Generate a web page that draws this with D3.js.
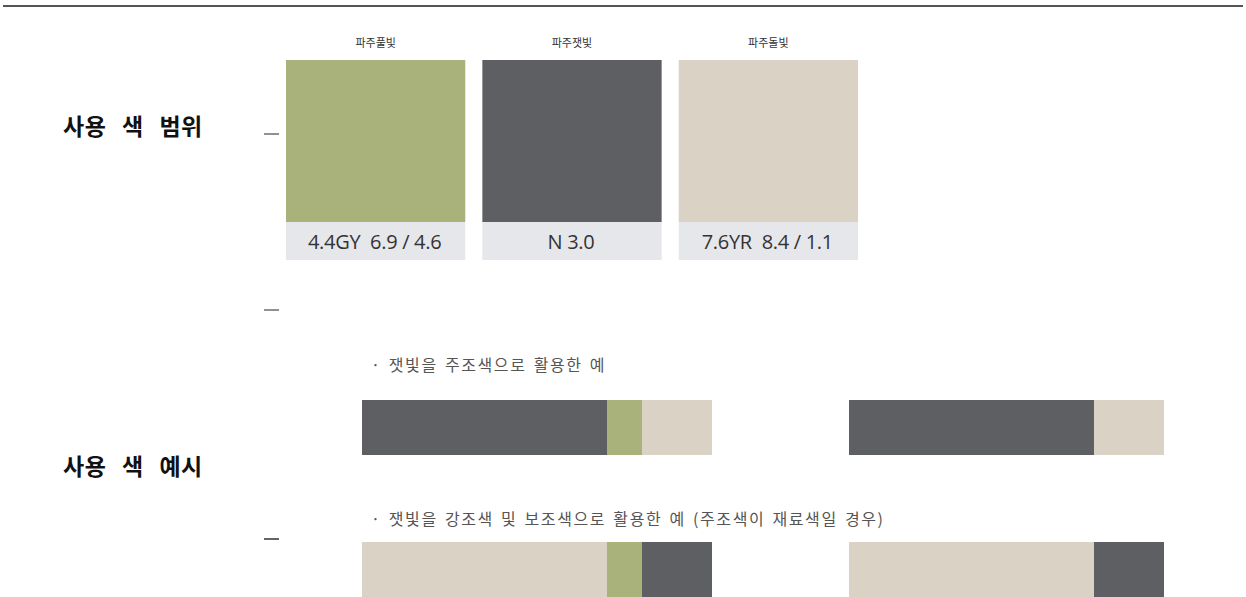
<!DOCTYPE html>
<html><head><meta charset="utf-8">
<script src="https://cdn.jsdelivr.net/npm/d3@7"></script>
<style>
html,body{margin:0;padding:0;background:#fff;}
svg{display:block;}
</style></head>
<body>
<svg id="chart" width="1246" height="597"></svg>
<script>
// ---- data ----
const swatchNames = ["파주풀빛", "파주잿빛", "파주돌빛"];
const swatchCodes = ["4.4GY  6.9 / 4.6", "N 3.0", "7.6YR  8.4 / 1.1"];
const swatchColors = ["#a8b27a", "#5e5f63", "#dbd2c6"];
const sectionLabels = ["사용 색 범위", "사용 색 예시"];
const exampleCaptions = [
  "· 잿빛을 주조색으로 활용한 예",
  "· 잿빛을 강조색 및 보조색으로 활용한 예 (주조색이 재료색일 경우)"
];
// example bars: [swatch name, share]
const example1A = [["파주잿빛", 70], ["파주풀빛", 10], ["파주돌빛", 20]];
const example1B = [["파주잿빛", 70], ["파주돌빛", 20]];
const example2A = [["파주돌빛", 70], ["파주풀빛", 10], ["파주잿빛", 20]];
const example2B = [["파주돌빛", 70], ["파주잿빛", 20]];

// ---- drawing ----
const svg = d3.select("#chart");
const color = d3.scaleOrdinal().domain(swatchNames).range(swatchColors);

// top rule
svg.append("line").attr("x1", 3).attr("x2", 1243).attr("y1", 6).attr("y2", 6)
  .attr("stroke", "#555").attr("stroke-width", 2);

// section labels
const labelY = d3.scalePoint().domain(sectionLabels).range([135, 475]);
svg.selectAll("text.section").data(sectionLabels).join("text")
  .attr("class", "section")
  .attr("x", 63).attr("y", d => labelY(d))
  .attr("font-family", "'Noto Sans CJK KR', sans-serif")
  .attr("font-weight", "bold").attr("font-size", 23)
  .attr("fill", "#111")
  .attr("letter-spacing", 0.5)
  .attr("word-spacing", 10)
  .text(d => d);

// dashes
const dashYs = [134, 310, 539];
svg.selectAll("line.dash").data(dashYs).join("line")
  .attr("class", "dash")
  .attr("x1", 264).attr("x2", 279).attr("y1", d => d).attr("y2", d => d)
  .attr("stroke", (d, i) => i === 2 ? "#111" : "#555").attr("stroke-width", 1.3);

// swatches
const x = d3.scaleBand().domain(swatchNames).range([286, 858]).paddingInner(0.087);
const sw = svg.selectAll("g.sw").data(swatchNames).join("g").attr("class", "sw")
  .attr("transform", d => `translate(${x(d)},0)`);
sw.append("text")
  .attr("x", x.bandwidth() / 2).attr("y", 47)
  .attr("text-anchor", "middle")
  .attr("font-family", "'Noto Sans CJK KR', sans-serif")
  .attr("font-size", 11).attr("fill", "#333")
  .text(d => d);
sw.append("rect")
  .attr("x", 0).attr("y", 60).attr("width", x.bandwidth()).attr("height", 162)
  .attr("fill", d => color(d));
sw.append("rect")
  .attr("x", 0).attr("y", 222).attr("width", x.bandwidth()).attr("height", 38)
  .attr("fill", "#e6e7eb");
sw.append("text")
  .attr("x", x.bandwidth() / 2 - 1).attr("y", 248.5)
  .attr("text-anchor", "middle")
  .attr("font-family", "'Open Sans', sans-serif")
  .attr("font-size", 20).attr("fill", "#333")
  .attr("letter-spacing", -0.3)
  .attr("xml:space", "preserve")
  .style("white-space", "pre")
  .text((d, i) => swatchCodes[i]);

// captions
const captionY = [371, 525];
svg.selectAll("text.caption").data(exampleCaptions).join("text")
  .attr("class", "caption")
  .attr("x", 371).attr("y", (d, i) => captionY[i])
  .attr("font-family", "'Noto Sans CJK KR', sans-serif")
  .attr("font-size", 16).attr("fill", "#555")
  .attr("letter-spacing", 1.6)
  .attr("word-spacing", 2)
  .text(d => d);

// example bars
const w = d3.scaleLinear().domain([0, 100]).range([0, 350]);
const bars = [
  {segs: example1A, x0: 362, y: 400},
  {segs: example1B, x0: 849, y: 400},
  {segs: example2A, x0: 362, y: 542},
  {segs: example2B, x0: 849, y: 542}
];
bars.forEach(b => {
  let acc = 0;
  const segs = b.segs.map(([name, v]) => { const s = {name, start: acc, v}; acc += v; return s; });
  svg.append("g").selectAll("rect").data(segs).join("rect")
    .attr("x", d => b.x0 + w(d.start))
    .attr("y", b.y)
    .attr("width", d => w(d.v))
    .attr("height", 55)
    .attr("fill", d => color(d.name));
});
</script>
</body></html>
